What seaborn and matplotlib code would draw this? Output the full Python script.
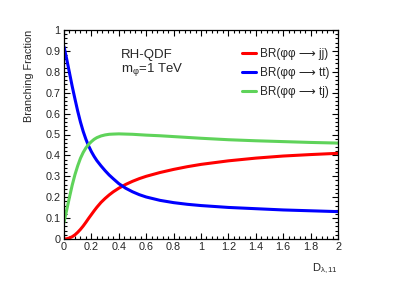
import numpy as np
import pandas as pd
import matplotlib
matplotlib.use("Agg")
import matplotlib.pyplot as plt
from matplotlib.ticker import MultipleLocator
import seaborn as sns

# Data
d_lambda = [0.00, 0.02, 0.04, 0.06, 0.08, 0.10, 0.12, 0.14, 0.16, 0.18, 0.20, 0.22, 0.24,
            0.27, 0.30, 0.33, 0.36, 0.40, 0.45, 0.50, 0.55, 0.60, 0.70, 0.80, 0.90, 1.00,
            1.20, 1.40, 1.60, 1.80, 2.00]
br_jj = [0.000, 0.001, 0.005, 0.011, 0.020, 0.032, 0.046, 0.062, 0.080, 0.099, 0.117, 0.135,
         0.152, 0.175, 0.194, 0.211, 0.226, 0.243, 0.261, 0.276, 0.289, 0.300, 0.318, 0.333,
         0.346, 0.357, 0.374, 0.387, 0.397, 0.404, 0.410]
br_tt = [0.920, 0.860, 0.795, 0.730, 0.670, 0.612, 0.560, 0.515, 0.477, 0.445, 0.418, 0.395,
         0.375, 0.350, 0.327, 0.306, 0.288, 0.265, 0.243, 0.226, 0.212, 0.201, 0.185, 0.174,
         0.166, 0.160, 0.151, 0.145, 0.139, 0.135, 0.131]
br_tj = [0.080, 0.140, 0.200, 0.258, 0.308, 0.350, 0.386, 0.414, 0.436, 0.453, 0.466, 0.477,
         0.485, 0.493, 0.498, 0.501, 0.502, 0.503, 0.502, 0.501, 0.499, 0.497, 0.494, 0.490,
         0.486, 0.482, 0.475, 0.470, 0.466, 0.462, 0.459]
labels = ["BR(φφ ⟶ jj)", "BR(φφ ⟶ tt)", "BR(φφ ⟶ tj)"]
colors = ["#ff0000", "#0000ff", "#5fd35a"]

sns.set_style("ticks")
plt.rcParams['font.family'] = ['Liberation Sans', 'DejaVu Sans']
plt.rcParams['mathtext.fontset'] = 'custom'
plt.rcParams['mathtext.rm'] = 'Liberation Sans'
plt.rcParams['mathtext.it'] = 'Liberation Sans'
plt.rcParams['mathtext.bf'] = 'Liberation Sans'

rows = []
for lab, vals in zip(labels, [br_jj, br_tt, br_tj]):
    for xv, yv in zip(d_lambda, vals):
        rows.append({"x": xv, "y": yv, "series": lab})
df = pd.DataFrame(rows)

fig = plt.figure(figsize=(3.99, 2.86), dpi=100)
ax = fig.add_axes([64/399, 1-239/286, (338-64)/399, (239-30)/286])
sns.lineplot(data=df, x="x", y="y", hue="series", palette=dict(zip(labels, colors)),
             linewidth=2.2, ax=ax, legend=True, sort=False)

ax.set_xlim(0, 2)
ax.set_ylim(0, 1)
ax.xaxis.set_minor_locator(MultipleLocator(0.04))
ax.yaxis.set_minor_locator(MultipleLocator(0.02))
ax.set_xticks(np.arange(0, 2.01, 0.2))
ax.set_xticklabels(["0", "0.2", "0.4", "0.6", "0.8", "1", "1.2", "1.4", "1.6", "1.8", "2"])
ax.set_yticks(np.arange(0, 1.01, 0.1))
ax.set_yticklabels(["0", "0.1", "0.2", "0.3", "0.4", "0.5", "0.6", "0.7", "0.8", "0.9", "1"])
ax.tick_params(which='both', direction='in', top=True, right=True, labelsize=7.8,
               color='black', width=0.8)
ax.tick_params(which='major', length=4.0, pad=2.5)
ax.tick_params(which='minor', length=2.0)
for s in ax.spines.values():
    s.set_linewidth(0.9)
    s.set_color('black')

ax.set_xlabel(r"D$_{λ,11}$", fontsize=8, ha='right')
ax.xaxis.set_label_coords(1.0, -0.11)
ax.set_ylabel("Branching Fraction", fontsize=7.8, ha='right')
ax.yaxis.set_label_coords(-0.11, 1.0)

ax.text(121/399, 1-55/286, "RH-QDF", transform=fig.transFigure, fontsize=9.5,
        va='center', ha='left')
ax.text(121/399, 1-70/286, r"m$_{φ}$=1 TeV", transform=fig.transFigure, fontsize=9.5,
        va='center', ha='left')

handles, labs = ax.get_legend_handles_labels()
leg = ax.legend(handles, labs, loc='center left', bbox_to_anchor=(242/399, 1-73/286),
                bbox_transform=fig.transFigure, frameon=False, fontsize=8.5,
                handlelength=1.2, handletextpad=0.3, labelspacing=0.62,
                borderpad=0, borderaxespad=0)
for h in leg.get_lines():
    h.set_linewidth(2.2)

fig.savefig("out.png", dpi=100)
